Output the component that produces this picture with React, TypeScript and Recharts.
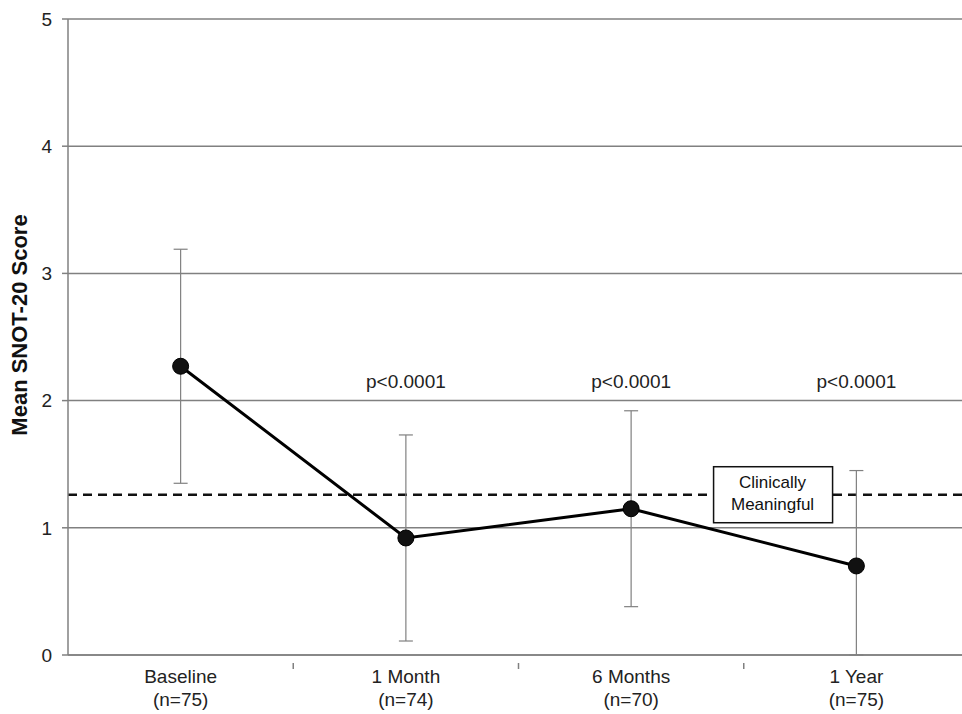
import React from 'react';
import {
	ComposedChart,
	Line,
	XAxis,
	YAxis,
	CartesianGrid,
	ErrorBar,
	ReferenceLine,
	ReferenceDot,
} from 'recharts';

const timepoints = ['Baseline', '1 Month', '6 Months', '1 Year'];
const sampleSizes = ['(n=75)', '(n=74)', '(n=70)', '(n=75)'];
const meanScores = [2.27, 0.92, 1.15, 0.7];
const lowerBounds = [1.35, 0.11, 0.38, 0.0];
const upperBounds = [3.19, 1.73, 1.92, 1.45];
const pValues = ['', 'p<0.0001', 'p<0.0001', 'p<0.0001'];
const pLabelLevel = 2.15;
const clinicalThreshold = 1.26;
const yTicks = [0, 1, 2, 3, 4, 5];

const data = timepoints.map((t, i) => ({
	name: t,
	n: sampleSizes[i],
	score: meanScores[i],
	err: [meanScores[i] - lowerBounds[i], upperBounds[i] - meanScores[i]],
}));

const FONT = '"Liberation Sans", Arial, sans-serif';

const XTick = (props: any) => {
	const { x, y, payload, index, width, visibleTicksCount } = props;
	const half = (width || 901) / (visibleTicksCount || 4) / 2;
	return (
		<g transform={`translate(${x},${y})`}>
			{index < timepoints.length - 1 && (
				<line x1={half} x2={half} y1={0} y2={6} stroke="#808080" strokeWidth={1.5} />
			)}
			<text textAnchor="middle" fontFamily={FONT} fontSize={19} fill="#222">
				<tspan x={0} dy={20}>{payload.value}</tspan>
				<tspan x={0} dy={23}>{sampleSizes[index]}</tspan>
			</text>
		</g>
	);
};

const ThresholdLabel = (props: any) => {
	const { viewBox } = props;
	const cx = viewBox.x + viewBox.width * 0.782;
	const cy = viewBox.y;
	return (
		<g>
			<rect x={cx - 59} y={cy - 28} width={119} height={56} fill="#fff" stroke="#111" strokeWidth={1.5} />
			<text textAnchor="middle" fontFamily={FONT} fontSize={17} fill="#111">
				<tspan x={cx} y={cy - 7}>Clinically</tspan>
				<tspan x={cx} y={cy + 15}>Meaningful</tspan>
			</text>
		</g>
	);
};

export default function App() {
	return (
		<div style={{ position: 'absolute', left: 0, top: 0, width: 962, height: 714, overflow: 'hidden', background: '#fff' }}>
			<ComposedChart
				width={969}
				height={714}
				data={data}
				margin={{ top: 19, right: 0, left: 0, bottom: 0 }}
			>
				<CartesianGrid vertical={false} stroke="#808080" strokeWidth={1.5} />
				<XAxis
					dataKey="name"
					scale="band"
					height={59}
					stroke="#808080"
					strokeWidth={1.5}
					tick={<XTick />}
					tickLine={false}
					interval={0}
				/>
				<YAxis
					domain={[0, 5]}
					ticks={yTicks}
					width={68}
					stroke="#808080"
					strokeWidth={1.5}
					tickSize={6}
					tickMargin={10}
					tick={{ fontFamily: FONT, fontSize: 19, fill: '#222' }}
					label={{
						value: 'Mean SNOT-20 Score',
						angle: -90,
						position: 'insideLeft',
						dx: 14,
						dy: -12,
						style: { fontFamily: FONT, fontSize: 22, fontWeight: 'bold', fill: '#111', textAnchor: 'middle' },
					}}
				/>
				<ReferenceLine
					y={clinicalThreshold}
					stroke="#111"
					strokeWidth={2.5}
					strokeDasharray="9 6"
					label={<ThresholdLabel />}
				/>
				{timepoints.map((t, i) =>
					pValues[i] ? (
						<ReferenceDot
							key={t}
							x={t}
							y={pLabelLevel}
							r={0}
							stroke="none"
							fill="none"
							label={{ value: pValues[i], position: 'center', style: { fontFamily: FONT, fontSize: 19, fill: '#222' } }}
						/>
					) : null
				)}
				<Line
					dataKey="score"
					stroke="#000"
					strokeWidth={3}
					isAnimationActive={false}
					dot={{ r: 8, fill: '#111', stroke: '#000', strokeWidth: 1 }}
					activeDot={false}
				>
					<ErrorBar dataKey="err" width={7} stroke="#808080" strokeWidth={1.2} />
				</Line>
			</ComposedChart>
		</div>
	);
}
